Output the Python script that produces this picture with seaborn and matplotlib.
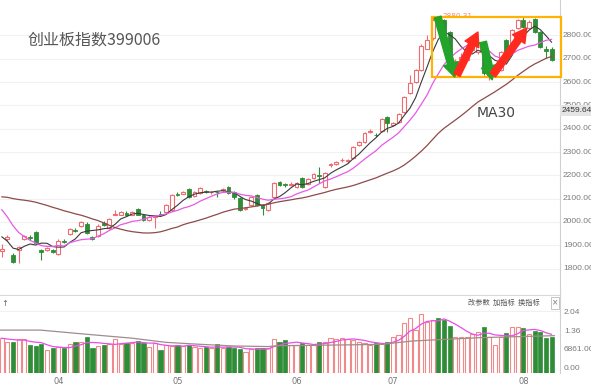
import numpy as np
import pandas as pd
import matplotlib
matplotlib.use("Agg")
import matplotlib.pyplot as plt
import seaborn as sns
from matplotlib.patches import Rectangle
from matplotlib.transforms import blended_transform_factory

sns.set_theme(style="white")
plt.rcParams['font.family'] = ['Noto Sans CJK SC', 'DejaVu Sans']

# ---------------- data ----------------
opens = [1876, 1926, 1860, 1881, 1928, 1936, 1958, 1881, 1880, 1880,
         1864, 1918, 1950, 1967, 1984, 1992, 1935, 1941, 1995, 1975,
         2032, 2031, 2040, 2031, 2056, 2031, 2010, 2020, 2034, 2044,
         2052, 2122, 2122, 2142, 2112, 2125, 2133, 2127, 2130, 2137,
         2150, 2129, 2103, 2054, 2074, 2116, 2074, 2052, 2108, 2170,
         2162, 2158, 2150, 2189, 2163, 2189, 2203, 2150, 2243, 2249,
         2264, 2262, 2274, 2330, 2343, 2386, 2375, 2390, 2450, 2415,
         2428, 2471, 2552, 2599, 2650, 2744, 2790, 2876, 2866, 2815,
         2650, 2700, 2695, 2738, 2728, 2772, 2622, 2640, 2652, 2781,
         2768, 2832, 2866, 2832, 2871, 2815, 2740, 2742]
highs = [1905, 1942, 1866, 1897, 1946, 1946, 1962, 1886, 1893, 1886,
         1925, 1925, 1975, 1976, 2005, 1998, 1940, 1990, 2003, 2018,
         2052, 2048, 2045, 2048, 2060, 2035, 2027, 2030, 2045, 2078,
         2120, 2128, 2135, 2146, 2133, 2150, 2137, 2135, 2134, 2145,
         2155, 2133, 2106, 2063, 2112, 2120, 2078, 2086, 2172, 2175,
         2168, 2170, 2172, 2193, 2189, 2210, 2236, 2215, 2252, 2262,
         2275, 2272, 2325, 2348, 2385, 2398, 2382, 2445, 2455, 2430,
         2467, 2540, 2629, 2655, 2762, 2800, 2880.31, 2879, 2870, 2820,
         2700, 2725, 2752, 2775, 2790, 2778, 2650, 2660, 2735, 2786,
         2830, 2872, 2878, 2866, 2876, 2820, 2755, 2750]
lows = [1850, 1918, 1826, 1826, 1924, 1922, 1906, 1838, 1875, 1866,
        1860, 1908, 1946, 1958, 1980, 1950, 1924, 1937, 1982, 1970,
        2030, 2028, 2025, 2028, 2028, 2005, 2005, 1975, 2025, 2040,
        2048, 2110, 2118, 2104, 2108, 2120, 2125, 2122, 2108, 2128,
        2120, 2100, 2048, 2050, 2070, 2070, 2031, 2048, 2104, 2155,
        2152, 2155, 2145, 2146, 2159, 2185, 2167, 2146, 2235, 2245,
        2258, 2255, 2270, 2326, 2339, 2380, 2365, 2386, 2387, 2410,
        2424, 2467, 2548, 2595, 2646, 2740, 2782, 2855, 2810, 2682,
        2622, 2680, 2690, 2732, 2720, 2632, 2608, 2630, 2648, 2725,
        2763, 2828, 2832, 2828, 2810, 2745, 2705, 2690]
closes = [1882, 1934, 1830, 1892, 1941, 1931, 1911, 1872, 1887, 1870,
          1920, 1914, 1971, 1963, 2001, 1954, 1929, 1984, 1988, 2014,
          2036, 2044, 2032, 2044, 2031, 2010, 2022, 2024, 2030, 2074,
          2116, 2114, 2130, 2108, 2129, 2146, 2128, 2130, 2127, 2140,
          2125, 2106, 2052, 2058, 2108, 2074, 2061, 2082, 2168, 2160,
          2158, 2162, 2168, 2150, 2185, 2206, 2199, 2208, 2247, 2257,
          2268, 2266, 2321, 2343, 2381, 2390, 2371, 2441, 2424, 2424,
          2462, 2535, 2595, 2650, 2757, 2779, 2866, 2864, 2815, 2690,
          2690, 2708, 2746, 2768, 2772, 2640, 2640, 2648, 2729, 2729,
          2824, 2866, 2836, 2858, 2815, 2751, 2735, 2695]
# volume in 亿
volumes = [1.23, 1.10, 1.10, 1.19, 1.19, 0.99, 0.96, 1.02, 0.81, 0.87,
           0.90, 0.87, 1.01, 1.10, 1.10, 1.28, 0.89, 0.96, 0.99, 1.01,
           1.19, 1.01, 1.07, 1.07, 1.13, 1.07, 0.93, 1.07, 0.81, 0.99,
           0.96, 0.99, 0.96, 0.99, 0.90, 0.87, 0.90, 0.87, 1.02, 0.87,
           0.93, 0.87, 0.84, 0.75, 0.84, 0.87, 0.87, 0.87, 1.19, 1.10,
           1.16, 0.99, 0.99, 1.05, 0.99, 0.99, 1.08, 1.08, 1.23, 1.19,
           1.25, 1.19, 1.16, 1.10, 1.05, 0.99, 1.05, 1.02, 1.08, 1.28,
           1.34, 1.76, 1.96, 1.52, 2.09, 1.82, 1.88, 1.94, 1.88, 1.68,
           1.28, 1.28, 1.28, 1.37, 1.46, 1.64, 1.28, 0.99, 1.28, 1.40,
           1.64, 1.64, 1.58, 1.37, 1.49, 1.44, 1.25, 1.28]
# closes / volumes before the visible window (needed for the moving averages)
prior_closes = [1990, 2000, 2010, 2030, 2040, 2060, 2080, 2093,
                2110, 2130, 2150, 2160, 2170, 2175, 2180, 2182, 2200,
                2290, 2320, 2330,
                2250, 2210, 2180, 2120, 2089,
                2030, 1980, 1920, 1872]
prior_volumes = [1.25, 1.20, 1.28, 1.19]
# long volume average line
vol_long_idx = [-0.3, 6.8, 15, 23, 29, 35, 41, 47, 49, 61, 67, 72.5, 78.5, 84.4, 90, 97.5]
vol_long_val = [1.52, 1.52, 1.37, 1.23, 1.08, 1.01, 0.95, 0.93, 0.96, 0.99, 1.01, 1.13, 1.19, 1.25, 1.28, 1.32]

month_labels = ['04', '05', '06', '07', '08']
month_idx = [10, 31, 52, 69, 92]
price_ticks = [1800, 1900, 2000, 2100, 2200, 2300, 2400, 2500, 2600, 2700, 2800]
vol_ticks = [0.0, 0.6861, 1.36, 2.04]
vol_tick_labels = ['0.00', '6861.00', '1.36', '2.04']
title = '创业板指数399006'
last_label = '2459.64'
max_label = '2880.31'

# ---------------- figure ----------------
W, H = 591, 386
fig = plt.figure(figsize=(W / 100, H / 100), dpi=100)
fig.patch.set_facecolor('white')

ax = fig.add_axes([0, 1 - 295 / H, 560 / W, 295 / H])
axv = fig.add_axes([0, 1 - 372.5 / H, 560 / W, (372.5 - 296) / H])

RED = '#ee6b70'
GREEN = '#2f8d37'
n = len(closes)
idx = np.arange(n)
o = np.array(opens, float); c = np.array(closes, float)
h = np.array(highs, float); l = np.array(lows, float)
up = c >= o

for a in (ax, axv):
    a.set_xlim(-0.30, 98.47)
    a.set_facecolor('white')
    for s in ('top', 'left'):
        a.spines[s].set_visible(False)
    a.spines['right'].set_color('#d0d0d0')
    a.spines['bottom'].set_color('#d8d8d8')
    a.spines['right'].set_linewidth(0.8)
    a.spines['bottom'].set_linewidth(0.8)
    a.tick_params(left=False, right=False, bottom=False, labelleft=False)

ax.set_ylim(1686.7, 2952.3)
ax.set_xticks([])
ax.set_yticks([])
for p in price_ticks:
    ax.axhline(p, color='#f1f1f1', lw=0.8, zorder=0)

# wicks
cols = np.where(up, RED, GREEN)
ax.vlines(idx, l, h, colors=cols, lw=0.8, zorder=2)
# bodies
bottoms = np.minimum(o, c)
heights = np.maximum(np.abs(c - o), 1.5)
ax.bar(idx[up], heights[up], bottom=bottoms[up], width=0.68,
       facecolor='white', edgecolor=RED, linewidth=0.8, zorder=3)
ax.bar(idx[~up], heights[~up], bottom=bottoms[~up], width=0.68,
       facecolor=GREEN, edgecolor=GREEN, linewidth=0.6, zorder=3)

# moving averages
full = pd.Series(np.concatenate([prior_closes, closes]))
k = len(prior_closes)
ma5 = full.rolling(5).mean().values[k:]
ma10 = full.rolling(10).mean().values[k:]
ma30 = full.rolling(30).mean().values[k:]
sns.lineplot(x=idx, y=ma5, ax=ax, color='#3a3a3a', lw=0.8, zorder=4)
sns.lineplot(x=idx, y=ma10, ax=ax, color='#e65ae6', lw=0.9, zorder=4)
sns.lineplot(x=idx, y=ma30, ax=ax, color='#8e4a4a', lw=0.9, zorder=4)

# box and arrows
ax.add_patch(Rectangle((75.9, 2622), 98.6 - 75.9, 2879 - 2622, fill=False,
                       edgecolor='#ffb300', lw=1.6, zorder=6, clip_on=False))
ax.text(77.7, 2884, max_label, fontsize=5.2, color='#f08a70', va='center',
        ha='left', family=['DejaVu Sans'], zorder=5)
arrows = [((76.9, 2879), (79.9, 2622), '#22a32a'),
          ((80.3, 2631), (84.0, 2815), '#ff2a1f'),
          ((84.9, 2772), (86.5, 2610), '#22a32a'),
          ((86.6, 2631), (92.6, 2832), '#ff2a1f')]
for (x0, y0), (x1, y1), colr in arrows:
    ax.annotate('', xy=(x1, y1), xytext=(x0, y0),
                arrowprops=dict(arrowstyle='simple,head_width=1.0,head_length=0.9,tail_width=0.45',
                                color=colr, mutation_scale=11, shrinkA=0, shrinkB=0),
                zorder=7)

ax.text(87.2, 2467, 'MA30', fontsize=10, color='#444444', ha='center', va='center',
        family=['DejaVu Sans'])
fig.text(28 / W, 1 - 40 / H, title, fontsize=11.5, color='#555555', ha='left', va='center')

# right price labels (cut by the image edge, as in the reference)
tr = blended_transform_factory(fig.transFigure, ax.transData)
for p in price_ticks:
    ax.text(563 / W, p, f'{p:.2f}', transform=tr, fontsize=6, color='#7a7a7a',
            va='center', ha='left', family=['Liberation Sans'], clip_on=False)
ax.text(562 / W, 2480, last_label, transform=tr, fontsize=6, color='#333333',
        va='center', ha='left', family=['Liberation Sans'], clip_on=False,
        bbox=dict(boxstyle='square,pad=0.25', facecolor='#e4e4e4', edgecolor='none'))

# ---------------- volume panel ----------------
axv.set_ylim(0, 76.5 / 27.9)
v = np.array(volumes)
axv.bar(idx[up], v[up], width=0.74, facecolor='white', edgecolor='#f08a8a',
        linewidth=0.8, zorder=2)
axv.bar(idx[~up], v[~up], width=0.74, facecolor=GREEN, edgecolor=GREEN,
        linewidth=0.5, zorder=2)
vfull = pd.Series(np.concatenate([prior_volumes, volumes]))
vma5 = vfull.rolling(5).mean().values[len(prior_volumes):]
sns.lineplot(x=idx, y=vma5, ax=axv, color='#e84ee8', lw=0.9, zorder=3)
sns.lineplot(x=vol_long_idx, y=vol_long_val, ax=axv, color='#a08c8c', lw=0.9, zorder=3)
axv.axhline(2.2, color='#f0f0f0', lw=0.8, zorder=0)
axv.set_yticks([])
axv.set_xticks(month_idx)
axv.set_xticklabels(month_labels, fontsize=6, color='#777777', family=['DejaVu Sans'])
axv.tick_params(axis='x', length=0, pad=3)
axv.spines['bottom'].set_visible(False)

trv = blended_transform_factory(fig.transFigure, axv.transData)
for t, lab in zip(vol_ticks, vol_tick_labels):
    axv.text(564 / W, t, lab, transform=trv, fontsize=6, color='#7a7a7a',
             va='bottom', ha='left', family=['Liberation Sans'], clip_on=False)

fig.text(5 / W, 1 - 303 / H, '↑', fontsize=6, color='#666666', ha='center', va='center',
         family=['DejaVu Sans'])
fig.text(468 / W, 1 - 303 / H, '改参数  加指标  换指标', fontsize=5.2, color='#555555',
         ha='left', va='center')
fig.text(555 / W, 1 - 303 / H, '×', fontsize=5.5, color='#777777', ha='center', va='center',
         family=['DejaVu Sans'],
         bbox=dict(boxstyle='square,pad=0.15', facecolor='white', edgecolor='#bbbbbb', lw=0.6))

fig.savefig('out.png', dpi=100)
